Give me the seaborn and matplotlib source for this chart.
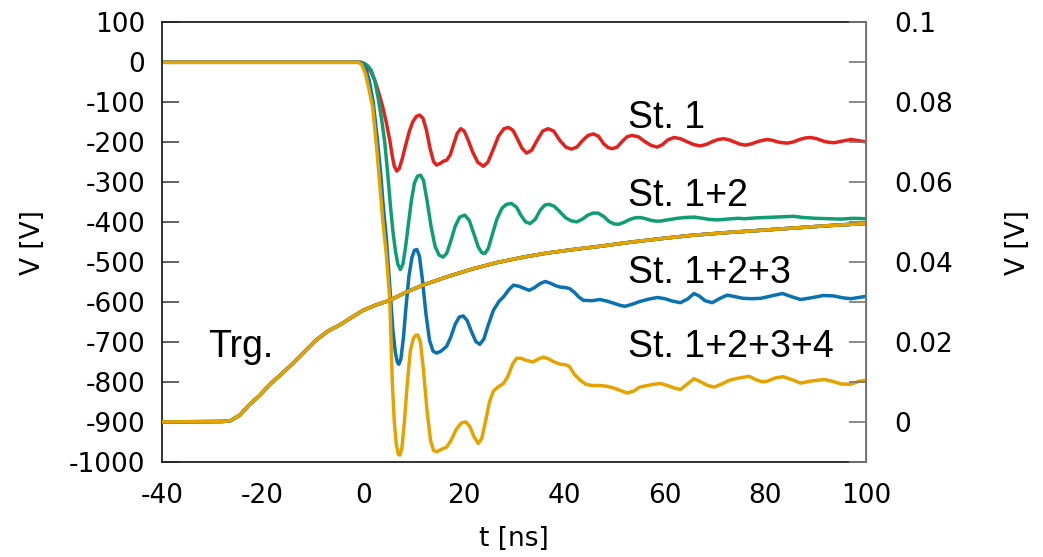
import numpy as np
import pandas as pd
import matplotlib
matplotlib.use("Agg")
import matplotlib.pyplot as plt
import seaborn as sns

# ---- data ----
t_st1 = [-40, -0.5, 0, 0.8, 1.6, 2.4, 3.2, 3.9, 4.6, 5.3, 5.8, 6.2, 6.7, 7.2, 7.8, 8.5, 9.2, 9.9,
         10.6, 11.25, 11.9, 12.6, 13.3, 14, 14.6, 15.3, 16.0, 16.6, 17.3, 18.0, 18.7, 19.4, 20.1,
         20.9, 21.8, 22.8, 23.9, 24.8, 25.8, 26.9, 28, 28.9, 29.8, 30.7, 31.6, 32.5, 33.5, 34.6,
         35.7, 36.8, 37.9, 39.1, 40.3, 41.4, 42.5, 43.6, 44.7, 45.8, 46.8, 47.8, 48.7, 49.5, 50.5,
         51.5, 52.5, 53.5, 54.7, 56, 57.3, 58.5, 59.5, 60.6, 61.8, 63.1, 64.5, 65.8, 67.1, 68.3,
         69.5, 70.6, 71.7, 72.8, 74, 75, 76.1, 77.2, 78.3, 79.4, 80.4, 81.4, 82.4, 83.4, 84.4,
         85.6, 86.8, 88, 89, 90.2, 91.5, 92.6, 93.7, 95.3, 97, 98.5, 100]
v_st1 = [0, 0, -2, -10, -25, -48, -80, -112, -150, -195, -235, -260, -272, -265, -240, -205, -172,
         -148, -135, -132, -140, -170, -215, -248, -257, -253, -247, -245, -232, -205, -178, -166,
         -172, -195, -225, -250, -260, -250, -220, -185, -166, -163, -170, -192, -215, -227, -220,
         -195, -172, -166, -172, -195, -212, -217, -212, -196, -183, -179, -185, -203, -213, -216,
         -212, -198, -186, -183, -186, -198, -208, -212, -206, -194, -188, -191, -199, -206, -209,
         -205, -198, -193, -191, -194, -200, -205, -207, -204, -199, -195, -193, -195, -199, -201,
         -202, -199, -193, -189, -188, -191, -197, -200, -201, -197, -193, -196, -199]

t_st12 = [-40, -0.5, 0.3, 1, 1.6, 2.3, 3, 3.7, 4.3, 4.9, 5.4, 5.9, 6.4, 6.9, 7.4, 7.9, 8.4, 9, 9.6,
          10.2, 10.8, 11.4, 12, 12.7, 13.5, 14.3, 15.1, 15.9, 16.6, 17.4, 18.3, 19.2, 20.2, 21.1,
          22, 22.9, 23.6, 24.2, 24.9, 25.7, 26.6, 27.6, 28.5, 29.5, 30.5, 31.4, 32.3, 33.2, 34.2,
          35.2, 36.1, 37, 38, 39, 40.2, 41.3, 42.5, 43.6, 44.7, 45.7, 46.7, 47.8, 48.9, 49.9, 50.8,
          51.9, 53, 54, 55.1, 56.2, 57.2, 58.2, 59.1, 60.5, 62.5, 64, 65.8, 67.5, 69, 70.5, 72.4,
          74.5, 76, 78, 80, 82, 83.8, 85.6, 87.5, 90, 92.5, 95, 97.5, 100]
v_st12 = [0, 0, -3, -10, -20, -45, -90, -145, -200, -280, -355, -420, -470, -505, -518, -505, -465,
          -405, -345, -302, -285, -282, -295, -345, -410, -460, -482, -487, -478, -448, -410, -387,
          -382, -395, -428, -462, -476, -478, -465, -430, -392, -365, -355, -353, -362, -383, -399,
          -403, -393, -370, -357, -355, -360, -372, -388, -396, -399, -392, -382, -377, -377, -385,
          -398, -404, -405, -400, -393, -389, -388, -391, -395, -397, -397, -394, -390, -388, -387,
          -390, -393, -394, -392, -390, -391, -389, -388, -387, -386, -385, -388, -390, -391, -392,
          -390, -391]

t_st123 = [-40, -0.8, -0.2, 0.5, 1.2, 2, 2.8, 3.5, 4, 4.6, 5.3, 5.9, 6.4, 6.8, 7.1, 7.5, 8, 8.5,
           9.1, 9.7, 10.2, 10.7, 11.2, 11.8, 12.5, 13.2, 13.9, 14.6, 15.5, 16.6, 17.4, 18.3, 19.1,
           19.9, 20.7, 21.5, 22.4, 23.2, 24, 24.8, 25.9, 27, 28, 29, 29.9, 31, 32.2, 33, 34, 35.2,
           36.2, 37.2, 38.2, 39.2, 40.2, 41.1, 42, 42.9, 43.8, 45.5, 47.1, 48.5, 50, 51.2, 52.1,
           53.5, 55, 56.8, 58.5, 60, 61.5, 63.1, 64.5, 65.8, 66.8, 68, 69.4, 71, 72.4, 74, 75.5,
           77.3, 79.1, 81.2, 83.4, 85.2, 87, 89, 91.5, 93.5, 95.5, 97, 98.5, 100]
v_st123 = [0, 0, -3, -15, -45, -100, -190, -280, -360, -437, -560, -667, -725, -750, -755, -742,
           -690, -615, -535, -488, -470, -468, -485, -545, -630, -695, -722, -727, -722, -710, -688,
           -655, -637, -634, -646, -672, -698, -705, -692, -660, -620, -598, -585, -568, -557, -560,
           -566, -570, -564, -553, -548, -552, -558, -562, -563, -566, -575, -587, -595, -596, -593,
           -597, -603, -608, -610, -605, -598, -592, -588, -591, -597, -601, -592, -578, -584, -596,
           -601, -590, -582, -586, -590, -591, -590, -584, -578, -586, -593, -589, -583, -584, -589,
           -591, -588, -585]

t_st1234 = [-40, -1, -0.3, 0.5, 1.2, 1.9, 2.8, 3.9, 4.6, 5.3, 5.8, 6.2, 6.6, 7, 7.3, 7.7, 8.2, 8.8,
            9.4, 10, 10.5, 10.9, 11.4, 12, 12.7, 13.4, 14, 14.6, 15.5, 16.6, 17.5, 18.5, 19.5, 20.4,
            21.2, 22, 22.9, 23.6, 24.3, 25.1, 25.9, 26.8, 27.9, 28.8, 29.7, 30.5, 31.4, 32.4, 33.8,
            34.8, 35.8, 36.8, 37.8, 39.2, 40.2, 41, 42, 43.2, 44.3, 45.5, 47.1, 48.5, 50, 51.5,
            52.5, 53.8, 55, 56.5, 57.8, 59.1, 60.5, 61.8, 63.1, 64.4, 65.8, 67, 68.5, 69.8, 71.2,
            72.8, 74.5, 76.7, 78.2, 79.5, 80.4, 82, 83.5, 85.2, 87, 89, 91.7, 93.5, 95, 96.9, 98.5,
            100]
v_st1234 = [0, 0, -5, -30, -70, -112, -230, -395, -480, -595, -800, -900, -955, -980, -982, -965,
            -900, -800, -720, -690, -682, -682, -700, -770, -870, -945, -970, -974, -968, -962,
            -945, -918, -902, -899, -910, -935, -953, -940, -900, -850, -822, -812, -803, -785,
            -755, -740, -740, -745, -749, -742, -737, -741, -748, -755, -756, -760, -780, -795,
            -805, -808, -808, -810, -815, -822, -827, -822, -812, -808, -805, -803, -808, -814,
            -818, -805, -791, -798, -808, -812, -805, -795, -790, -785, -794, -799, -797, -789,
            -786, -793, -802, -797, -793, -798, -804, -805, -798, -795]

t_trg = [-40, -28, -26.4, -24.5, -22.7, -20.5, -18.7, -16.3, -14, -11.7, -9.4, -7, -4.7, -2.3, 0,
         2.5, 5.3, 8.5, 11.9, 16.5, 21.9, 26.5, 31.9, 36.5, 41.8, 47.1, 53, 59.1, 65, 72, 79.1, 86,
         93, 100]
r_trg = [0.0001, 0.0002, 0.0004, 0.0018, 0.0043, 0.0068, 0.0093, 0.012, 0.0147, 0.0176, 0.0205,
         0.0228, 0.0243, 0.0262, 0.028, 0.0293, 0.0305, 0.0325, 0.0343, 0.0363, 0.0384, 0.0399,
         0.0413, 0.0423, 0.0432, 0.044, 0.045, 0.0459, 0.0467, 0.0474, 0.048, 0.0486, 0.0492,
         0.0497]

labels = ["St. 1", "St. 1+2", "St. 1+2+3", "St. 1+2+3+4"]
colors = ["#e3221e", "#0f9e74", "#0a72b0", "#e5a300"]
series_t = [t_st1, t_st12, t_st123, t_st1234]
series_v = [v_st1, v_st12, v_st123, v_st1234]

x_ticks = [-40, -20, 0, 20, 40, 60, 80, 100]
y_ticks = list(range(-1000, 101, 100))
y2_ticks = [0, 0.02, 0.04, 0.06, 0.08, 0.1]
y2_ticklabels = ["0", "0.02", "0.04", "0.06", "0.08", "0.1"]

# ---- plot ----
sns.set_style("white")
plt.rcParams["font.family"] = ["DejaVu Sans"]
plt.rcParams["axes.unicode_minus"] = False

fig = plt.figure(figsize=(10.43, 5.57), dpi=100)
ax = fig.add_axes([162 / 1043, 1 - 462.3 / 557, (866 - 162) / 1043, (462.3 - 22.3) / 557])
ax2 = ax.twinx()

lw = 2.5
for tt, vv, c in zip(series_t, series_v, colors):
    df = pd.DataFrame({"t": tt, "v": vv})
    sns.lineplot(data=df, x="t", y="v", ax=ax, color=c, lw=lw, sort=False, estimator=None)

for c in colors:
    df = pd.DataFrame({"t": t_trg, "r": r_trg})
    sns.lineplot(data=df, x="t", y="r", ax=ax2, color=c, lw=lw, sort=False, estimator=None)

ax.set_xlim(-40, 100)
ax.set_ylim(-1000, 100)
ax2.set_ylim(-0.01, 0.1)

ax.set_xticks(x_ticks)
ax.set_yticks(y_ticks)
ax2.set_yticks(y2_ticks)
ax2.set_yticklabels(y2_ticklabels)
ax2.set_yticks(np.arange(-0.01, 0.1001, 0.01), minor=True)

ax.tick_params(axis="both", direction="in", length=12, width=1.2, color="#444444",
               labelsize=19, pad=12, labelcolor="black")
ax.tick_params(axis="x", pad=15)
ax2.tick_params(axis="y", which="both", direction="in", length=12, width=1.2, color="#777777",
                labelsize=19, pad=20, labelcolor="black")

for s in ["left", "bottom", "top"]:
    ax.spines[s].set_color("#222222")
    ax.spines[s].set_linewidth(1.3)
ax2.spines["right"].set_color("#777777")
ax2.spines["right"].set_linewidth(1.3)
for s in ["left", "bottom", "top"]:
    ax2.spines[s].set_visible(False)

ax.set_xlabel("t [ns]", fontsize=19, labelpad=12, color="black")
ax.set_ylabel("V [V]", fontsize=19, color="black")
ax2.set_ylabel("V [V]", fontsize=19, color="black")
ax.yaxis.set_label_coords(-0.165, 0.5)
ax2.yaxis.set_label_coords(1.198, 0.5)

tf = dict(fontsize=27, family=["Liberation Sans", "DejaVu Sans"], color="black")
ax.text(52.6, -165, labels[0], va="baseline", **tf)
ax.text(52.6, -360, labels[1], va="baseline", **tf)
ax.text(52.6, -552, labels[2], va="baseline", **tf)
ax.text(52.6, -737, labels[3], va="baseline", **tf)
ax.text(-30.9, -737, "Trg.", va="baseline", **tf)

fig.savefig("out.png", dpi=100)
